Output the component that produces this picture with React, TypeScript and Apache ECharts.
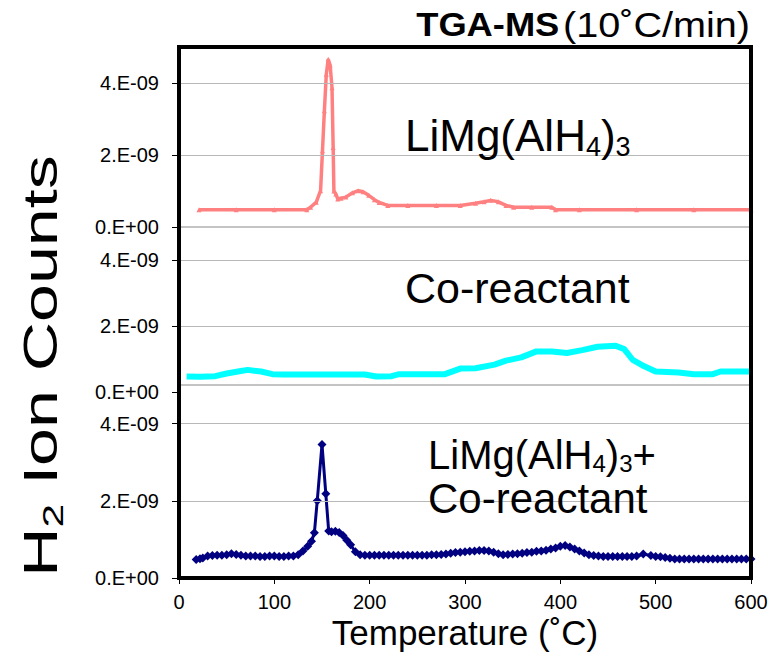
import React, { useEffect, useRef } from "react";
import * as echarts from "echarts";

// H2 signal values below are in units of 1e-9 (A); axis labels are written in E-notation.

// LiMg(AlH4)3 — temperature (°C) and H2 signal
const TEMP_LIMG = [21, 60, 100, 134, 138, 144, 148.5, 150.5, 152.5, 154.5, 156.5, 158.5, 160.5, 161.7, 162.5, 164.5, 166.5, 170, 175, 182, 188, 193, 199, 205, 210, 219, 240, 270, 295, 311, 320, 327, 335, 343, 351, 370, 391, 395, 420, 480, 540, 600];
const H2_LIMG = [0.48, 0.48, 0.48, 0.48, 0.55, 0.69, 1.01, 2.12, 3.23, 4.24, 4.66, 4.5, 3.87, 2.21, 1.0, 0.92, 0.78, 0.8, 0.83, 0.95, 1.01, 0.98, 0.88, 0.76, 0.68, 0.6, 0.6, 0.6, 0.6, 0.66, 0.7, 0.74, 0.7, 0.6, 0.55, 0.55, 0.55, 0.48, 0.48, 0.48, 0.48, 0.48];

// Co-reactant
const TEMP_CO = [8, 22, 38, 50, 62, 72, 86, 98, 110, 150, 195, 207, 223, 231, 255, 279, 295, 311, 331, 343, 359, 375, 391, 407, 423, 439, 458, 467, 476, 488, 500, 524, 540, 560, 568, 600];
const H2_CO = [0.47, 0.46, 0.48, 0.56, 0.62, 0.67, 0.62, 0.54, 0.53, 0.53, 0.53, 0.47, 0.48, 0.54, 0.54, 0.54, 0.71, 0.72, 0.83, 0.95, 1.05, 1.23, 1.23, 1.18, 1.27, 1.37, 1.4, 1.3, 0.97, 0.78, 0.62, 0.59, 0.54, 0.54, 0.62, 0.62];

// LiMg(AlH4)3 + Co-reactant
const TEMP_MIX = [18, 22, 25, 30, 35, 40, 45, 50, 55, 60, 65, 70, 75, 80, 85, 90, 95, 100, 105, 110, 115, 120, 125, 130, 135, 139, 142, 145, 150, 154, 157, 160, 164, 168, 172, 176, 180, 185, 190, 195, 200, 205, 210, 215, 220, 225, 230, 235, 240, 245, 250, 255, 260, 265, 270, 275, 280, 285, 290, 295, 300, 305, 310, 315, 320, 325, 330, 335, 340, 345, 350, 355, 360, 365, 370, 375, 380, 385, 390, 395, 400, 405, 410, 415, 420, 425, 430, 435, 440, 445, 450, 455, 460, 465, 470, 475, 480, 487, 495, 500, 505, 510, 515, 520, 525, 530, 535, 540, 545, 550, 555, 560, 565, 570, 575, 580, 585, 590, 595, 600];
const H2_MIX = [0.48, 0.5, 0.52, 0.57, 0.58, 0.59, 0.59, 0.6, 0.63, 0.61, 0.59, 0.57, 0.57, 0.57, 0.56, 0.56, 0.57, 0.57, 0.56, 0.56, 0.57, 0.57, 0.6, 0.7, 0.82, 0.95, 1.17, 2.0, 3.46, 2.18, 1.22, 1.2, 1.21, 1.18, 1.1, 0.98, 0.86, 0.68, 0.6, 0.59, 0.59, 0.59, 0.59, 0.59, 0.59, 0.59, 0.59, 0.59, 0.59, 0.59, 0.59, 0.59, 0.59, 0.6, 0.6, 0.61, 0.62, 0.64, 0.66, 0.67, 0.68, 0.69, 0.7, 0.71, 0.71, 0.7, 0.67, 0.63, 0.6, 0.61, 0.62, 0.63, 0.64, 0.66, 0.67, 0.69, 0.7, 0.72, 0.75, 0.78, 0.82, 0.84, 0.8, 0.75, 0.7, 0.65, 0.6, 0.58, 0.57, 0.56, 0.56, 0.56, 0.56, 0.56, 0.56, 0.56, 0.57, 0.62, 0.58, 0.56, 0.55, 0.53, 0.51, 0.49, 0.49, 0.49, 0.49, 0.49, 0.49, 0.49, 0.49, 0.49, 0.49, 0.49, 0.49, 0.49, 0.49, 0.49, 0.49, 0.49];

const X_TICKS = [0, 100, 200, 300, 400, 500, 600];
const Y_TICKS = [0, 2, 4];
const Y_MAX = 5;

const FONT = "'Liberation Sans', Arial, sans-serif";

// plot frame (px)
const LEFT = 179;
const RIGHT = 751;
const TOP = 47;
const BOTTOM = 578;

const toPairs = (t: number[], v: number[]) => t.map((x, i) => [x, v[i]]);

const fmtY = (v: number) => (v === 0 ? "0.E+00" : `${Math.round(v)}.E-09`);

const yAxisFor = (gridIndex: number) => ({
  type: "value",
  gridIndex,
  min: 0,
  max: Y_MAX,
  interval: 2,
  axisLine: { show: true, lineStyle: { color: "#000", width: 1 } },
  axisTick: {
    show: true,
    length: 7,
    customValues: Y_TICKS,
    lineStyle: { color: "#000", width: 1 },
  },
  axisLabel: {
    show: true,
    customValues: Y_TICKS,
    formatter: fmtY,
    fontSize: 20,
    fontFamily: FONT,
    color: "#000",
    margin: 20,
  },
  splitLine: { show: false },
});

// light horizontal grid lines at the labelled levels above zero
const gridLines = () => ({
  silent: true,
  symbol: "none",
  label: { show: false },
  lineStyle: { color: "#b8b8b8", type: "solid", width: 1 },
  data: Y_TICKS.filter((t) => t > 0).map((t) => ({ yAxis: t })),
});

const sub = (size: number, lh: number) => ({
  fontSize: size,
  fontFamily: FONT,
  fill: "#000",
  verticalAlign: "bottom",
  lineHeight: lh,
});

export default function App() {
  const ref = useRef<HTMLDivElement>(null);

  useEffect(() => {
    if (!ref.current) return;
    const chart = echarts.init(ref.current, null, { renderer: "svg" });
    // x scales for the upper two panels: same range, nothing drawn
    const xHidden = (gridIndex: number) => ({
      type: "value",
      gridIndex,
      min: X_TICKS[0],
      max: X_TICKS[X_TICKS.length - 1],
      interval: 100,
      show: false,
    });
    chart.setOption({
      animation: false,
      backgroundColor: "#fff",
      grid: [
        { left: LEFT, right: 781 - RIGHT, top: TOP, height: 180, show: true, backgroundColor: "#fff", borderColor: "#888", borderWidth: 1 },
        { left: LEFT, right: 781 - RIGHT, top: 227, height: 165, show: false },
        { left: LEFT, right: 781 - RIGHT, top: 385, height: BOTTOM - 385, show: true, backgroundColor: "#fff", borderColor: "#888", borderWidth: 1 },
      ],
      xAxis: [
        xHidden(0),
        xHidden(1),
        {
          type: "value",
          gridIndex: 2,
          min: X_TICKS[0],
          max: X_TICKS[X_TICKS.length - 1],
          interval: 100,
          axisLine: { show: true, lineStyle: { color: "#000", width: 1 } },
          axisTick: { show: true, length: 6, lineStyle: { color: "#000" } },
          axisLabel: { fontSize: 20, fontFamily: FONT, color: "#000", margin: 14 },
          splitLine: { show: false },
        },
      ],
      yAxis: [yAxisFor(0), yAxisFor(1), yAxisFor(2)],
      series: [
        {
          type: "line",
          xAxisIndex: 0,
          yAxisIndex: 0,
          data: toPairs(TEMP_LIMG, H2_LIMG),
          lineStyle: { width: 3.5, color: "#FF8080" },
          symbol: "triangle",
          symbolSize: 5,
          showSymbol: true,
          itemStyle: { color: "#FF8080" },
          markLine: gridLines(),
          z: 3,
        },
        {
          type: "line",
          xAxisIndex: 1,
          yAxisIndex: 1,
          data: toPairs(TEMP_CO, H2_CO),
          lineStyle: { width: 6, color: "#00FFFF" },
          itemStyle: { color: "#00FFFF" },
          showSymbol: false,
          markLine: gridLines(),
          z: 3,
        },
        {
          type: "line",
          xAxisIndex: 2,
          yAxisIndex: 2,
          data: toPairs(TEMP_MIX, H2_MIX),
          lineStyle: { width: 3, color: "#000080" },
          itemStyle: { color: "#000080" },
          symbol: "diamond",
          symbolSize: 9,
          showSymbol: true,
          clip: false,
          markLine: gridLines(),
          z: 3,
        },
      ],
      graphic: [
        {
          type: "rect",
          silent: true,
          z: 100,
          shape: { x: LEFT, y: TOP, width: RIGHT - LEFT, height: BOTTOM - TOP },
          style: { fill: "transparent", stroke: "#000", lineWidth: 4 },
        },
        {
          type: "text",
          x: 750,
          y: 25,
          scaleX: 1.1,
          z: 100,
          style: {
            text: "{b|TGA-MS} {n|(10˚C/min)}",
            align: "right",
            verticalAlign: "middle",
            rich: {
              b: { fontSize: 33, fontWeight: "bold", fontFamily: FONT, fill: "#000" },
              n: { fontSize: 36, fontFamily: FONT, fill: "#000" },
            },
          },
        },
        {
          type: "text",
          x: 40,
          y: 366,
          rotation: Math.PI / 2,
          scaleX: 1.42,
          z: 100,
          style: {
            text: "{m|H}{s|2}{m| Ion Counts}",
            align: "center",
            verticalAlign: "middle",
            rich: {
              m: { fontSize: 48, fontFamily: FONT, fill: "#000", lineHeight: 56 },
              s: sub(30, 18),
            },
          },
        },
        {
          type: "text",
          x: 465,
          y: 632,
          z: 100,
          style: {
            text: "Temperature (˚C)",
            align: "center",
            verticalAlign: "middle",
            fontSize: 35,
            fontFamily: FONT,
            fill: "#000",
          },
        },
        {
          type: "text",
          x: 405,
          y: 135,
          z: 100,
          style: {
            text: "{m|LiMg(AlH}{s|4}{m|)}{s|3}",
            align: "left",
            verticalAlign: "middle",
            rich: {
              m: { fontSize: 44, fontFamily: FONT, fill: "#000", lineHeight: 50 },
              s: sub(27, 16),
            },
          },
        },
        {
          type: "text",
          x: 405,
          y: 288,
          z: 100,
          style: {
            text: "Co-reactant",
            align: "left",
            verticalAlign: "middle",
            fontSize: 43,
            fontFamily: FONT,
            fill: "#000",
          },
        },
        {
          type: "text",
          x: 428,
          y: 455,
          z: 100,
          style: {
            text: "{m|LiMg(AlH}{s|4}{m|)}{s|3}{m|+}",
            align: "left",
            verticalAlign: "middle",
            rich: {
              m: { fontSize: 40, fontFamily: FONT, fill: "#000", lineHeight: 40 },
              s: sub(24, 12),
            },
          },
        },
        {
          type: "text",
          x: 428,
          y: 498,
          z: 100,
          style: {
            text: "Co-reactant",
            align: "left",
            verticalAlign: "middle",
            fontSize: 42,
            lineHeight: 40,
            fontFamily: FONT,
            fill: "#000",
          },
        },
      ],
    });
    return () => chart.dispose();
  }, []);

  return <div ref={ref} style={{ width: 781, height: 658, position: "absolute", left: 0, top: 0 }} />;
}
